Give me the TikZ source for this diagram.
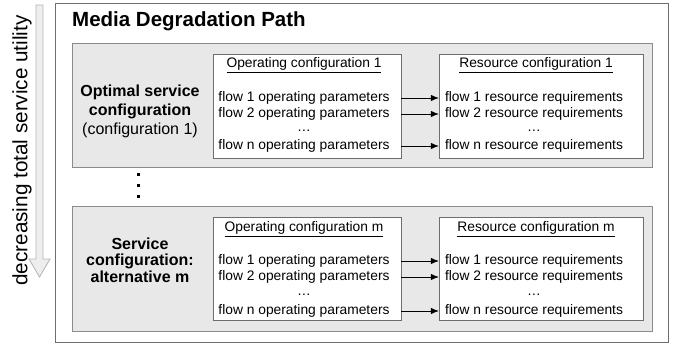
\documentclass[tikz,border=0pt]{standalone}
\usepackage{fontspec}
\setmainfont{Liberation Sans}
\usepackage{tikz}
\usetikzlibrary{positioning,arrows.meta}

\definecolor{boxgray}{HTML}{E8E8E8}
\definecolor{linegray}{HTML}{6E6E6E}
\definecolor{arrowgray}{HTML}{B4B4B4}
\definecolor{arrowfill}{HTML}{EEEEEE}

\begin{document}
\begin{tikzpicture}[
    x=1pt, y=-1pt,
    outerbox/.style={rectangle, draw=linegray, fill=white, minimum width=613pt, minimum height=339pt, inner sep=0pt},
    pathbox/.style={rectangle, draw=linegray!80, fill=boxgray, minimum width=580pt, minimum height=124pt, inner sep=0pt},
    cfgbox/.style={rectangle, draw=linegray, fill=white, minimum height=104pt, inner sep=0pt},
    % Text lines inside the configuration boxes
    line/.style={inner sep=0pt, font=\fontsize{13.8}{16}\selectfont},
    head/.style={line, font=\fontsize{13.8}{16}\selectfont},
    svc/.style={align=center, inner sep=0pt},
    flowarrow/.style={-{Latex[length=8pt,width=6.5pt]}, draw=black, line width=0.7pt}
  ]
    \useasboundingbox (0,0) rectangle (676,344);

    %--- Utility arrow on the left
    \draw[draw=arrowgray, fill=arrowfill, line width=0.8pt]
      (36,5) -- (43,5) -- (43,259) -- (50,259) -- (39.5,277) -- (29,259) -- (36,259) -- cycle;
    \node[rotate=90, inner sep=0pt, font=\fontsize{20.7}{22}\selectfont] (utility) at (22,150.5) {decreasing total service utility};

    %--- Outer frame and title
    \node[outerbox] (outer) at (361.5,172.5) {};
    \node[anchor=base west, inner sep=0pt, font=\fontsize{20.5}{22}\selectfont\bfseries] (title) at (72,27) {Media Degradation Path};

    %--- Row 1: optimal configuration
    \node[pathbox] (path1) at (362,105) {};
    \node[cfgbox, minimum width=188pt] (op1) at (307,106) {};
    \node[cfgbox, minimum width=204pt] (res1) at (541,106) {};
    \node[svc, font=\fontsize{16}{19}\selectfont] (svc1) at (140,111)
      {\textbf{Optimal service}\\\textbf{configuration}\\(configuration 1)};

    \node[head] (op1h) at (304,65) {\underline{Operating configuration 1}};
    \node[line] (op1a) at (304,98) {flow 1 operating parameters};
    \node[line] (op1b) at (304,114) {flow 2 operating parameters};
    \node[line] (op1d) at (304,131) {\dots};
    \node[line] (op1n) at (304,146) {flow n operating parameters};

    \node[head] (res1h) at (536,65) {\underline{Resource configuration 1}};
    \node[line] (res1a) at (534,98) {flow 1 resource requirements};
    \node[line] (res1b) at (534,114) {flow 2 resource requirements};
    \node[line] (res1d) at (534,131) {\dots};
    \node[line] (res1n) at (534,146) {flow n resource requirements};

    \draw[flowarrow] (op1a -| op1.east) -- (res1a -| res1.west);
    \draw[flowarrow] (op1b -| op1.east) -- (res1b -| res1.west);
    \draw[flowarrow] (op1n -| op1.east) -- (res1n -| res1.west);

    %--- Vertical dots between the rows
    \foreach \y in {173.5,184.5,195.5}
      \fill (137,\y) rectangle +(3,3);

    %--- Row m: alternative configuration
    \node[pathbox, minimum height=125pt] (pathm) at (362,268.5) {};
    \node[cfgbox, minimum width=188pt, minimum height=103pt] (opm) at (307,268.5) {};
    \node[cfgbox, minimum width=204pt, minimum height=103pt] (resm) at (541,268.5) {};
    \node[svc, font=\fontsize{16}{16.5}\selectfont\bfseries] (svcm) at (140,260)
      {Service\\configuration:\\alternative m};

    \node[head] (opmh) at (304,229) {\underline{Operating configuration m}};
    \node[line] (opma) at (304,261) {flow 1 operating parameters};
    \node[line] (opmb) at (304,277) {flow 2 operating parameters};
    \node[line] (opmd) at (304,295) {\dots};
    \node[line] (opmn) at (304,311) {flow n operating parameters};

    \node[head] (resmh) at (536,229) {\underline{Resource configuration m}};
    \node[line] (resma) at (534,261) {flow 1 resource requirements};
    \node[line] (resmb) at (534,277) {flow 2 resource requirements};
    \node[line] (resmd) at (534,295) {\dots};
    \node[line] (resmn) at (534,311) {flow n resource requirements};

    \draw[flowarrow] (opma -| opm.east) -- (resma -| resm.west);
    \draw[flowarrow] (opmb -| opm.east) -- (resmb -| resm.west);
    \draw[flowarrow] (opmn -| opm.east) -- (resmn -| resm.west);
  \end{tikzpicture}
\end{document}
